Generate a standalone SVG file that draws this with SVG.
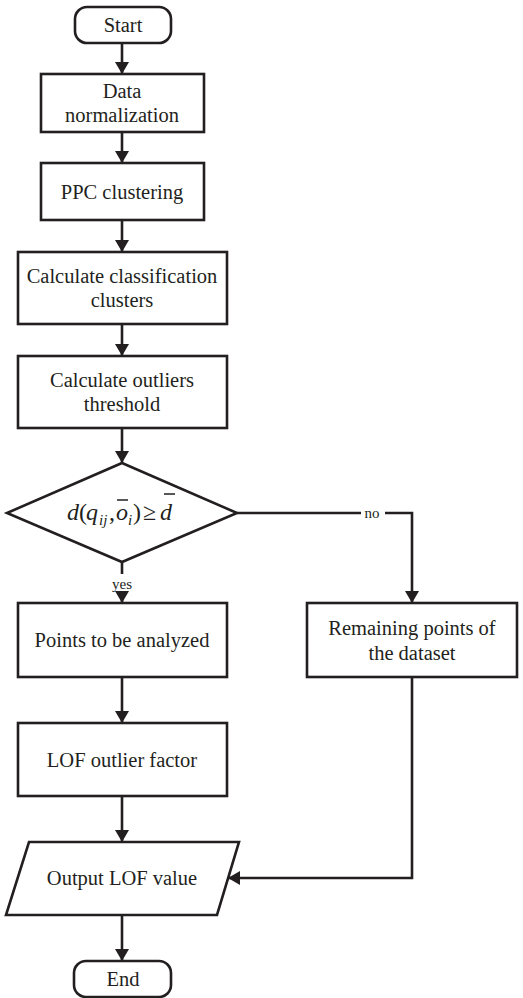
<svg xmlns="http://www.w3.org/2000/svg" width="523" height="998" viewBox="0 0 523 998">
<defs>
<style>
.n{fill:#fff;stroke:#231f20;stroke-width:2.6}
.t{font-family:'Liberation Serif','DejaVu Serif',serif;font-size:20.5px;fill:#231f20;text-anchor:middle}
.l{font-family:'Liberation Serif','DejaVu Serif',serif;font-size:15px;fill:#231f20;text-anchor:middle}
.c{fill:none;stroke:#231f20;stroke-width:2.6}
.f{font-family:'Liberation Serif','DejaVu Serif',serif;font-size:24px;fill:#231f20;font-style:italic}
.s{font-size:15px}
.u{font-style:normal}
</style>
<marker id="a" viewBox="0 0 12 14" refX="12" refY="7" markerWidth="12" markerHeight="14" markerUnits="userSpaceOnUse" orient="auto">
<path d="M0,0 L12,7 L0,14 Z" fill="#231f20"/>
</marker>
</defs>
<rect width="523" height="998" fill="#fff"/>
<g id="connectors">
<line class="c" x1="122" y1="43" x2="122" y2="74" marker-end="url(#a)"/>
<line class="c" x1="122" y1="132" x2="122" y2="163" marker-end="url(#a)"/>
<line class="c" x1="122" y1="220" x2="122" y2="252" marker-end="url(#a)"/>
<line class="c" x1="122" y1="324" x2="122" y2="356" marker-end="url(#a)"/>
<line class="c" x1="122" y1="428" x2="122" y2="463" marker-end="url(#a)"/>
<line class="c" x1="122" y1="562" x2="122" y2="574"/>
<line class="c" x1="122" y1="592" x2="122" y2="603" marker-end="url(#a)"/>
<text class="l" x="122" y="589">yes</text>
<polyline class="c" points="237,513 412,513 412,603" marker-end="url(#a)"/>
<rect x="361" y="505" width="24" height="16" fill="#fff"/>
<text class="l" x="372" y="518">no</text>
<line class="c" x1="122" y1="677" x2="122" y2="723" marker-end="url(#a)"/>
<line class="c" x1="122" y1="796" x2="122" y2="842" marker-end="url(#a)"/>
<polyline class="c" points="412,677 412,878 228,878" marker-end="url(#a)"/>
<line class="c" x1="122" y1="915" x2="122" y2="961" marker-end="url(#a)"/>
</g>
<g id="start">
<rect class="n" x="75" y="7" width="96" height="36" rx="12"/>
<text class="t" x="123" y="32">Start</text>
</g>
<g id="normalize">
<rect class="n" x="41" y="74" width="163" height="58"/>
<text class="t" x="122" y="98">Data</text>
<text class="t" x="122" y="122">normalization</text>
</g>
<g id="ppc">
<rect class="n" x="41" y="163" width="163" height="57"/>
<text class="t" x="122" y="199">PPC clustering</text>
</g>
<g id="classify">
<rect class="n" x="18" y="252" width="209" height="72"/>
<text class="t" x="122" y="283">Calculate classification</text>
<text class="t" x="122" y="307">clusters</text>
</g>
<g id="threshold">
<rect class="n" x="18" y="356" width="209" height="72"/>
<text class="t" x="122" y="387">Calculate outliers</text>
<text class="t" x="122" y="411">threshold</text>
</g>
<g id="decision">
<polygon class="n" points="122,463 237,513 122,562 7,513"/>
<text class="f" y="520"><tspan x="67">d</tspan><tspan class="u" x="79">(</tspan><tspan x="86">q</tspan><tspan class="s" x="99" dy="5">ij</tspan><tspan class="u" x="109" dy="-5">,</tspan><tspan x="116">o</tspan><tspan class="s" x="128" dy="5">i</tspan><tspan class="u" x="133" dy="-5">)</tspan><tspan class="u" x="143">≥</tspan><tspan x="160">d</tspan></text>
<line x1="117" y1="500" x2="128" y2="500" stroke="#231f20" stroke-width="1.5"/>
<line x1="164" y1="494" x2="175" y2="494" stroke="#231f20" stroke-width="1.5"/>
</g>
<g id="points">
<rect class="n" x="18" y="603" width="209" height="74"/>
<text class="t" x="122" y="647">Points to be analyzed</text>
</g>
<g id="remaining">
<rect class="n" x="307" y="603" width="210" height="74"/>
<text class="t" x="412" y="635">Remaining points of</text>
<text class="t" x="412" y="660">the dataset</text>
</g>
<g id="lof">
<rect class="n" x="18" y="723" width="209" height="73"/>
<text class="t" x="122" y="767">LOF outlier factor</text>
</g>
<g id="output">
<polygon class="n" points="29,842 239,842 217,915 6,915"/>
<text class="t" x="122" y="885">Output LOF value</text>
</g>
<g id="end">
<rect class="n" x="74" y="961" width="97" height="36" rx="12"/>
<text class="t" x="123" y="986">End</text>
</g>
</svg>
